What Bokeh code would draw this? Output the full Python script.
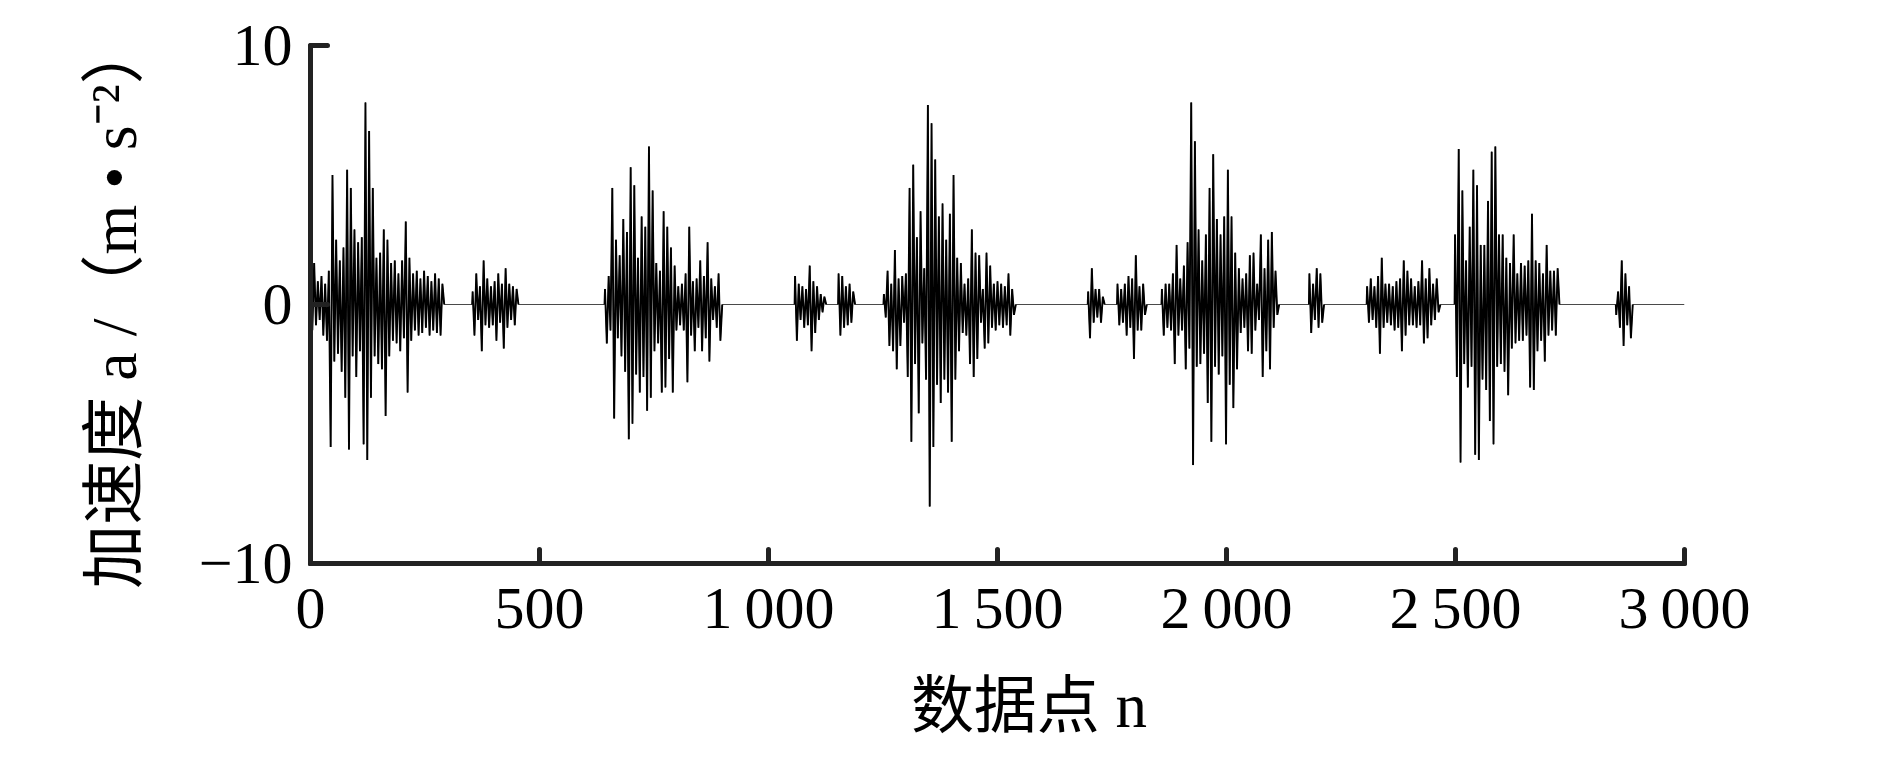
from bokeh.plotting import figure
from bokeh.models import Range1d, FixedTicker
from bokeh.embed import file_html
from bokeh.resources import INLINE

# ---------------- data ----------------
N_END = 3000          # last data point index
STEP = 4              # spacing (in data points) of the values read inside each burst

# index at which each burst of vibration starts
burst_starts = [0, 354, 643, 1058, 1153, 1252, 1698, 1762, 1859, 2181, 2307, 2499, 2851]

b01 = [0.4, -1.0, 1.6, -0.8, 0.9, -0.6, 1.1, -1.2, 0.8, -1.4, 1.3, -5.5, 5.0, -2.2, 2.5, -1.9,
       1.7, -2.6, 2.2, -3.6, 5.2, -5.6, 4.5, -2.0, 2.9, -2.8, 2.4, -1.8, 2.6, -5.4, 7.8, -6.0,
       6.7, -3.6, 4.5, -2.0, 1.8, -2.3, 2.0, -2.5, 2.9, -4.3, 2.5, -2.0, 1.6, -1.4, 1.7, -1.5,
       1.2, -1.8, 1.7, -1.3, 3.2, -3.4, 1.8, -1.4, 1.2, -1.0, 1.3, -1.2, 1.0, -1.1, 1.3, -0.9,
       1.1, -1.2, 0.9, -1.0, 1.2, -1.1, 1.0, -1.2, 0.8]
b02 = [0.5, -1.2, 1.2, -0.6, 0.7, -1.8, 1.7, -0.8, 1.0, -0.9, 0.7, -0.8, 0.9, -1.4, 1.2, -0.7,
       0.8, -1.7, 1.4, -0.9, 0.8, -0.6, 0.7, -0.8, 0.6]
b03 = [0.6, -1.5, 1.1, -1.0, 4.5, -4.4, 2.5, -1.3, 1.9, -2.0, 3.3, -2.6, 2.8, -5.2, 5.3, -4.6,
       4.6, -2.7, 1.8, -3.4, 3.4, -2.8, 3.0, -4.1, 6.1, -3.6, 4.4, -1.8, 1.6, -1.5, 1.3, -3.4,
       3.6, -3.2, 3.0, -2.1, 2.2, -3.4, 1.5, -1.0, 0.7, -0.8, 0.8, -1.0, 1.2, -3.0, 3.0, -1.2,
       0.9, -1.8, 1.0, -0.9, 1.7, -1.8, 1.1, -1.3, 2.4, -2.2, 1.0, -0.6, 0.7, -0.9, 1.2, -1.4]
b04 = [1.1, -1.4, 0.8, -0.6, 0.7, -0.9, 0.6, -0.8, 1.5, -1.8, 0.9, -1.1, 0.7, -0.6, 0.4, -0.3, 0.3]
b05 = [1.2, -1.2, 1.1, -0.9, 0.7, -0.8, 0.8, -0.7, 0.5]
b06 = [0.4, -0.5, 1.3, -1.6, 0.8, -1.8, 2.1, -2.5, 1.0, -1.6, 1.1, -0.7, 1.2, -2.8, 4.5, -5.3,
       5.4, -2.3, 2.6, -4.2, 3.6, -1.5, 1.4, -2.9, 7.7, -7.8, 7.0, -5.5, 5.6, -3.1, 3.4, -3.8,
       3.9, -2.9, 2.5, -3.4, 3.5, -5.3, 5.0, -2.9, 1.8, -1.8, 1.6, -1.1, 0.8, -1.2, 1.0, -2.3,
       2.9, -2.8, 2.0, -2.1, 1.9, -0.7, 0.6, -1.7, 2.0, -1.5, 1.5, -0.9, 0.8, -1.0, 0.9, -0.8,
       0.8, -0.9, 0.7, -0.8, 1.2, -1.2, 0.6, -0.4]
b07 = [0.5, -1.3, 1.4, -0.7, 0.6, -0.5, 0.6, -0.7, 0.3]
b08 = [0.8, -0.8, 0.6, -0.7, 0.8, -1.2, 1.1, -0.9, 1.0, -2.1, 1.9, -1.0, 0.7, -1.0, 0.8, -0.4]
b09 = [0.6, -1.2, 0.8, -0.9, 0.8, -1.0, 1.2, -2.3, 2.3, -1.2, 1.0, -1.0, 1.5, -2.5, 2.4, -1.7,
       7.8, -6.2, 6.3, -2.4, 2.9, -2.3, 1.7, -1.9, 2.7, -3.8, 4.5, -5.3, 5.8, -2.4, 3.3, -2.7,
       2.7, -2.0, 3.4, -5.4, 5.2, -3.1, 3.4, -4.0, 2.0, -2.5, 1.4, -1.1, 1.0, -0.9, 1.2, -1.8,
       1.9, -1.9, 2.0, -1.0, 0.8, -0.6, 2.7, -2.8, 1.4, -1.8, 2.5, -2.5, 2.8, -0.9, 1.3, -0.4]
b10 = [1.2, -1.1, 0.8, -0.6, 1.4, -0.9, 1.2, -0.7]
b11 = [0.7, -0.7, 1.0, -0.6, 0.7, -0.9, 1.1, -1.9, 1.8, -0.9, 0.8, -0.7, 0.8, -0.8, 0.7, -1.0,
       0.9, -0.9, 1.0, -1.8, 1.7, -1.2, 1.3, -0.8, 1.0, -0.8, 0.7, -0.9, 0.9, -0.8, 1.7, -1.5,
       1.0, -1.3, 1.4, -0.8, 0.8, -0.6, 1.0, -0.3]
b12 = [2.7, -2.8, 6.0, -6.1, 4.4, -2.3, 1.7, -3.2, 3.0, -2.4, 5.2, -5.8, 4.6, -6.0, 2.3, -2.9,
       2.3, -3.3, 4.0, -4.5, 5.9, -5.4, 6.1, -2.4, 2.7, -2.3, 2.7, -2.6, 1.8, -3.5, 1.6, -1.7,
       2.7, -1.5, 1.2, -1.4, 1.6, -1.4, 1.5, -1.2, 1.7, -3.2, 3.5, -3.3, 1.7, -1.8, 1.6, -1.4,
       1.2, -2.2, 2.3, -1.2, 1.3, -1.0, 1.3, -1.2, 1.4]
b13 = [-0.4, 0.5, -0.9, 1.7, -1.6, 1.2, -0.8, 0.7, -1.3]

bursts = [b01, b02, b03, b04, b05, b06, b07, b08, b09, b10, b11, b12, b13]

x_ticks = [0, 500, 1000, 1500, 2000, 2500, 3000]
x_tick_labels = ["0", "500", "1\u2009000", "1\u2009500", "2\u2009000", "2\u2009500", "3\u2009000"]
y_ticks = [-10, 0, 10]
y_tick_labels = ["\u221210", "0", "10"]

x_title = "\u2003数据点 n"
y_title = "加速度 a /（m • s\u207b\u00b2）"

# ---------------- build the series ----------------
xs, ys = [], []              # whole record (zeros between bursts)
burst_xs, burst_ys = [], []  # each burst on its own
for start, vals in zip(burst_starts, bursts):
    bx = [start - 1] + [start + STEP * i for i in range(len(vals))] + [start + STEP * len(vals)]
    by = [0.0] + list(vals) + [0.0]
    if start == 0:
        bx, by = bx[1:], by[1:]
    burst_xs.append(bx)
    burst_ys.append(by)
    xs.extend(bx)
    ys.extend(by)
xs.append(N_END)
ys.append(0.0)

# ---------------- figure ----------------
W, H = 1872, 762
FL, FT, FW, FH = 310, 45, 1374, 518   # frame box inside the canvas
p = figure(width=W, height=H, output_backend="svg", toolbar_location=None,
           x_range=Range1d(0, 3000), y_range=Range1d(-10, 10))
p.min_border_left = FL
p.min_border_right = W - FL - FW
p.min_border_top = FT
p.min_border_bottom = H - FT - FH
p.outline_line_color = None
p.xgrid.visible = False
p.ygrid.visible = False
p.background_fill_color = "white"
p.border_fill_color = "white"

p.line(xs, ys, line_color="#4a4a4a", line_width=1)
p.multi_line(burst_xs, burst_ys, line_color="black", line_width=1.9)

AX = "#222222"
FONT = "Liberation Serif, Noto Sans CJK SC"
for ax in (p.xaxis[0], p.yaxis[0]):
    ax.axis_line_color = AX
    ax.axis_line_width = 5
    ax.axis_line_cap = "round"
    ax.major_tick_line_color = AX
    ax.major_tick_line_width = 5
    ax.major_tick_line_cap = "round"
    ax.major_tick_out = 0
    ax.minor_tick_line_color = None
    ax.major_label_text_font = "Liberation Serif"
    ax.major_label_text_font_size = "60px"
    ax.major_label_text_color = "black"
    ax.axis_label_text_font = FONT
    ax.axis_label_text_font_style = "normal"
    ax.axis_label_text_color = "black"

p.xaxis.ticker = FixedTicker(ticks=x_ticks)
p.xaxis.major_label_overrides = {t: s for t, s in zip(x_ticks, x_tick_labels)}
p.xaxis.major_tick_in = 14
p.xaxis.major_label_standoff = 11
p.xaxis.axis_label = x_title
p.xaxis.axis_label_text_font_size = "63px"
p.xaxis.axis_label_standoff = 27

p.yaxis.ticker = FixedTicker(ticks=y_ticks)
p.yaxis.major_label_overrides = {t: s for t, s in zip(y_ticks, y_tick_labels)}
p.yaxis.major_tick_in = 17
p.yaxis.major_label_standoff = 18
p.yaxis.axis_label = y_title
p.yaxis.axis_label_text_font_size = "64px"
p.yaxis.axis_label_standoff = 46

open("out.html", "w").write(file_html(p, INLINE))
